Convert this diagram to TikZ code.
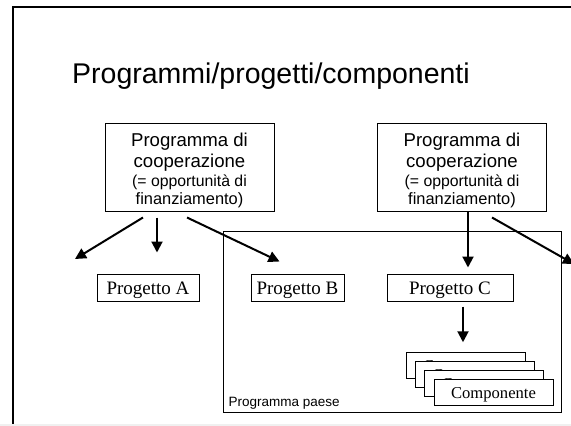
\documentclass[tikz,border=0pt]{standalone}
\usepackage{fontspec}
\setmainfont{Liberation Serif}
\setsansfont{Liberation Sans}
\usetikzlibrary{arrows.meta,calc}
\begin{document}
\begin{tikzpicture}[x=1pt,y=-1pt,
  frame/.style={draw, line width=2.2pt},
  progbox/.style={draw, line width=1pt, minimum width=169pt, minimum height=88pt, inner sep=0pt},
  bigline/.style={anchor=base, inner sep=0pt, font=\sffamily\fontsize{18.6}{21}\selectfont},
  smallline/.style={anchor=base, inner sep=0pt, font=\sffamily\fontsize{15.8}{18}\selectfont},
  midline/.style={anchor=base, inner sep=0pt, font=\sffamily\fontsize{16.4}{19}\selectfont},
  projbox/.style={draw, line width=1pt, minimum height=27pt, inner sep=0pt,
    text height=14pt, text depth=1pt, font=\fontsize{19}{22}\selectfont},
  compbox/.style={draw, fill=white, line width=1pt, minimum width=119pt, minimum height=25.5pt,
    inner sep=0pt, text height=12pt, text depth=1pt, font=\fontsize{16.6}{19}\selectfont},
  flow/.style={line width=2pt, -{Triangle[length=11pt,width=11pt]}}
]
\clip (0,0) rectangle (571,426);
\fill[white] (0,0) rectangle (571,426);

% slide frame and lower edge
\draw[frame] (13,7) rectangle (620,460);
\fill[gray!12] (0,424) rectangle (571,426);

% title
\node[anchor=base, inner sep=0pt, font=\sffamily\fontsize{28.5}{34}\selectfont] (title) at (271,83)
  {Programmi/progetti/componenti};

% country programme area
\node[draw, line width=1pt, minimum width=338pt, minimum height=181pt, inner sep=0pt] (paese) at (392,321.5) {};
\node[anchor=base west, inner sep=0pt, font=\sffamily\fontsize{13.5}{16}\selectfont] (paeselbl)
  at ($(paese.south west)+(6,-6)$) {Programma paese};

% cooperation programmes: box plus four lines of text on fixed baselines
\foreach \nm/\cx in {pl/189.5, pr/462} {
  \node[progbox] (\nm) at (\cx,167) {};
  \node[bigline]   (\nm-t1) at (\cx,146) {Programma di};
  \node[bigline]   (\nm-t2) at (\cx,167) {cooperazione};
  \node[smallline] (\nm-t3) at (\cx,186) {(= opportunità di};
  \node[midline]   (\nm-t4) at (\cx,204) {finanziamento)};
}

% projects
\node[projbox, minimum width=102pt] (pa) at (148,287.5) {Progetto A};
\node[projbox, minimum width=93pt] (pb) at (297.5,287.5) {Progetto B};
\node[projbox, minimum width=126pt] (pc) at (450,287.5) {Progetto C};

% stacked components
\foreach \i in {0,1,2,3}
  \node[compbox] (comp\i) at ({465.6+9.3*\i},{365.5+9*\i}) {Componente};

% free arrow ends
\coordinate (freeL) at (75,259);
\coordinate (freeA) at ($(pa.north)+(9,-21)$);
\coordinate (freeB) at ($(pb.north west)+(29,-12)$);
\coordinate (freeC) at ($(pc.north)+(18,-6)$);
\coordinate (freeR) at (574,264);
\coordinate (freeK) at ($(comp0.north)+(-2.6,-10)$);

% arrows
\draw[flow] ($(pl.south)+(-46.5,6)$) -- (freeL);
\draw[flow] ($(pl.south)+(-32.5,6)$) -- (freeA);
\draw[flow] ($(pl.south)+(-2.5,6)$) -- (freeB);
\draw[flow] ($(pr.south)+(6,0)$) -- (freeC);
\draw[flow] ($(pr.south)+(30,6)$) -- (freeR);
\draw[flow] ($(pc.south)+(13,5)$) -- (freeK);
\end{tikzpicture}
\end{document}
